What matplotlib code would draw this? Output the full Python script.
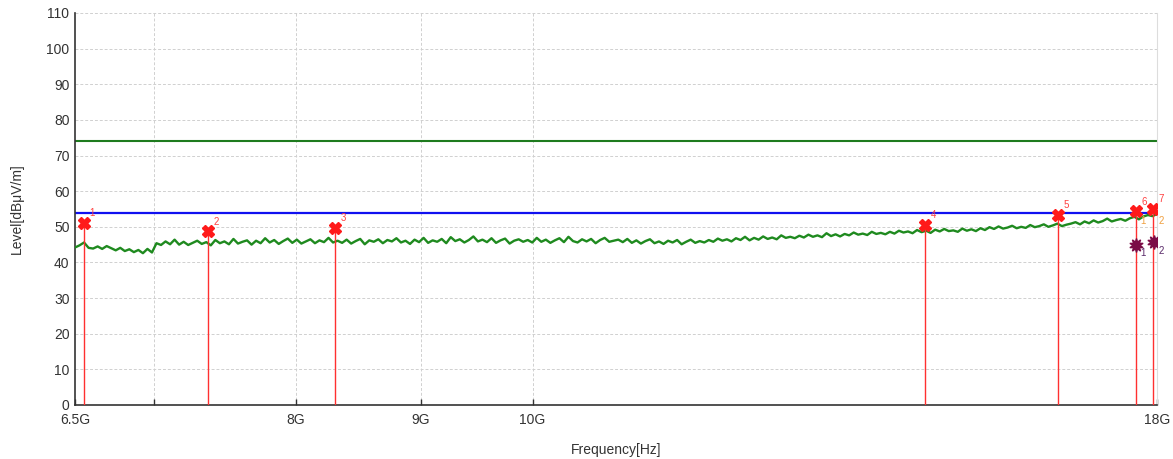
import numpy as np
import matplotlib.pyplot as plt
from matplotlib.ticker import FixedLocator, NullLocator

plt.rcParams['font.family'] = ['Liberation Sans', 'DejaVu Sans']

# trace level [dBuV/m], sampled along the log frequency axis 6.5G..18G
nivel = [
    44.2, 44.8, 45.6, 44.1, 43.9, 44.5, 43.8, 44.6, 44.0, 43.4, 44.1, 43.2, 43.7, 42.9, 43.5, 42.6, 43.8, 42.8, 45.4, 44.9,
    45.9, 45.1, 46.4, 45.0, 45.8, 44.9, 45.5, 46.1, 45.2, 45.7, 44.8, 46.3, 45.4, 45.9, 45.1, 46.6, 45.3, 45.8, 46.2, 45.0,
    46.1, 45.4, 46.8, 45.6, 46.3, 45.2, 46.0, 46.7, 45.5, 46.4, 45.3, 45.9, 46.5, 45.4, 46.2, 45.7, 46.9, 45.6, 46.1, 45.5,
    46.4, 45.3, 46.0, 46.6, 45.1, 46.2, 45.8, 46.5, 45.4, 46.3, 45.9, 46.8, 45.6, 46.1, 45.2, 46.4, 45.7, 46.9, 45.5, 46.2,
    45.8, 46.6, 45.4, 47.1, 46.0, 46.5, 45.6, 46.3, 47.3, 45.9, 46.4, 45.7, 46.8, 45.5, 46.2, 46.7, 45.3, 46.1, 46.5, 45.8,
    46.3, 45.6, 46.9, 45.8, 46.4, 45.5, 46.2, 46.8, 45.7, 47.2, 46.0, 45.6, 46.5, 45.9, 46.6, 45.4, 46.3, 46.9, 45.8, 46.1,
    46.4, 45.7, 46.6, 45.5, 46.2, 45.3, 46.0, 46.5, 45.4, 45.9, 45.2, 46.1, 45.6, 46.3, 45.1, 45.8, 46.4, 45.5, 46.0, 45.6,
    46.3, 45.8, 46.7, 46.1, 46.5, 45.9, 46.8, 46.3, 47.2, 46.2, 46.9, 46.4, 47.3, 46.6, 47.0, 46.5, 47.6, 46.9, 47.2, 46.8,
    47.5, 47.0, 47.8, 47.2, 47.6, 47.1, 48.2, 47.4, 47.9, 47.3, 48.0, 47.6, 48.4, 47.8, 48.1, 47.7, 48.6, 48.0, 48.3, 47.9,
    48.6, 48.1, 48.9, 48.4, 48.7, 48.2, 49.1, 48.5, 48.9, 48.3, 49.2, 48.7, 49.4, 48.8, 49.0, 48.6, 49.5, 48.9, 49.3, 48.8,
    49.6, 49.1, 49.9, 49.4, 50.1, 49.5, 49.8, 50.3, 49.6, 50.0, 49.7, 50.5, 49.9, 50.2, 50.7, 50.0, 50.4, 50.9, 50.2, 50.6,
    50.9, 51.3, 50.7, 51.5, 51.0, 51.8, 51.2, 51.6, 52.3, 51.5, 51.9, 52.2, 51.7, 52.4, 52.8, 52.1, 52.9, 53.3, 53.0, 53.6,
]
frecuencias = np.geomspace(6.5e9, 18e9, len(nivel))

# limit lines
limite_pico = 74.0
limite_prom = 54.0

# peak markers
pico_f = [6.555e9, 7.37e9, 8.30e9, 14.47e9, 16.40e9, 17.65e9, 17.93e9]
pico_v = [51.2, 48.7, 49.6, 50.6, 53.2, 54.3, 55.0]
pico_lbl = ['1', '2', '3', '4', '5', '6', '7']

# average markers
prom_f = [17.65e9, 17.95e9]
prom_v = [44.8, 45.6]
prom_lbl = ['1', '2']

xticks = [6.5e9, 7e9, 8e9, 9e9, 10e9, 18e9]
xtick_lbl = ['6.5G', '', '8G', '9G', '10G', '18G']

fig = plt.figure(figsize=(11.73, 4.59), dpi=100)
ax = fig.add_axes([75/1173, 54/459, 1082/1173, 392/459])

ax.set_xscale('log')
ax.set_xlim(6.5e9, 18e9)
ax.set_ylim(0, 110)

gris = '#d0d0d0'
for y in range(10, 111, 10):
    ax.axhline(y, color=gris, lw=0.7, ls=(0, (3, 2)), zorder=0)
for x in xticks[1:5]:
    ax.axvline(x, color=gris, lw=0.7, ls=(0, (3, 2)), zorder=0)

ax.axhline(limite_pico, color='#1e7b1e', lw=1.5, zorder=2)
ax.axhline(limite_prom, color='#1010f0', lw=1.6, zorder=2)

ax.plot(frecuencias, nivel, color='#1f8a1f', lw=1.7, zorder=3)

for f, v, t in zip(pico_f, pico_v, pico_lbl):
    ax.plot([f, f], [0, v], color='#ff3030', lw=1.0, zorder=4)
    ax.plot(f, v, marker='X', color='#ff1a1a', ms=9, mec='#ff1a1a', zorder=5)
    ax.annotate(t, (f, v), textcoords='offset points', xytext=(4, 5),
                fontsize=7, color='#ff4040', zorder=6)

for f, v, t in zip(prom_f, prom_v, prom_lbl):
    ax.plot(f, v, marker=(10, 1, 0), color='#7a0c46', ms=10, zorder=5)
    ax.annotate(t, (f, v), textcoords='offset points', xytext=(3, -8),
                fontsize=7, color='#5a2a6a', zorder=6)
    ax.annotate(t, (f, 52.0), textcoords='offset points', xytext=(3, -3),
                fontsize=7, color='#f0a040', zorder=6)

ax.xaxis.set_major_locator(FixedLocator(xticks))
ax.xaxis.set_minor_locator(NullLocator())
ax.set_xticklabels(xtick_lbl)
ax.set_yticks(range(0, 111, 10))
ax.tick_params(axis='x', direction='in', length=4, width=1, color='#333333',
               labelsize=10, labelcolor='#333333', pad=6)
ax.tick_params(axis='y', length=0, labelsize=10, labelcolor='#333333', pad=4)

for s in ['left', 'bottom']:
    ax.spines[s].set_color('#333333')
    ax.spines[s].set_linewidth(1.2)
ax.spines['top'].set_visible(False)
ax.spines['right'].set_color('#dddddd')

ax.set_xlabel('Frequency[Hz]', fontsize=10, color='#333333', labelpad=11)
ax.set_ylabel('Level[dBμV/m]', fontsize=10, color='#333333', labelpad=16)

fig.savefig('out.png', dpi=100)
